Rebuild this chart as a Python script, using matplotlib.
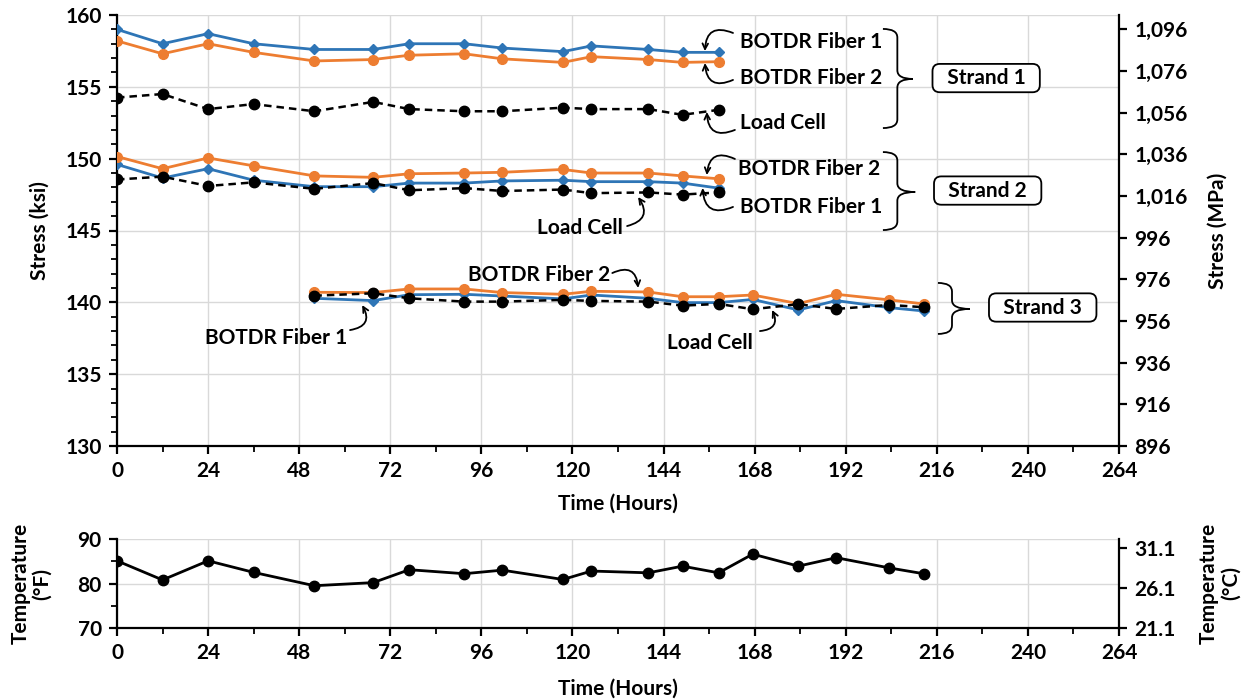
import numpy as np
import matplotlib
matplotlib.use("Agg")
import matplotlib.pyplot as plt
from matplotlib.path import Path
from matplotlib.patches import PathPatch
from matplotlib.ticker import MultipleLocator, FuncFormatter

plt.rcParams['font.family'] = ['Lato', 'DejaVu Sans']
plt.rcParams['font.weight'] = 'bold'
plt.rcParams['axes.labelweight'] = 'bold'

# time stamps (hours)
hours_s12 = [0, 12, 24, 36, 52, 67.5, 77, 91.5, 101.5, 117.5, 125, 140, 149, 158.5]
hours_s3 = [52, 67.5, 77, 91.5, 101.5, 117.5, 125, 140, 149, 158.5, 167.5, 179.5, 189.5, 203.5, 212.5]
hours_temp = [0, 12, 24, 36, 52, 67.5, 77, 91.5, 101.5, 117.5, 125, 140, 149, 158.5,
              167.5, 179.5, 189.5, 203.5, 212.5]

# strand 1 (ksi)
s1_f1 = [159.0, 158.0, 158.7, 158.0, 157.6, 157.6, 158.0, 158.0, 157.7, 157.45, 157.85, 157.6, 157.4, 157.4]
s1_f2 = [158.2, 157.3, 158.0, 157.4, 156.8, 156.9, 157.2, 157.3, 156.95, 156.7, 157.1, 156.9, 156.7, 156.75]
s1_lc = [154.25, 154.5, 153.45, 153.8, 153.3, 153.95, 153.45, 153.3, 153.3, 153.55, 153.45, 153.45, 153.05, 153.4]

# strand 2 (ksi)
s2_f2 = [150.15, 149.3, 150.05, 149.5, 148.8, 148.7, 148.95, 149.0, 149.05, 149.25, 149.0, 149.0, 148.8, 148.6]
s2_f1 = [149.6, 148.65, 149.3, 148.5, 148.05, 148.05, 148.3, 148.3, 148.45, 148.5, 148.4, 148.4, 148.3, 147.95]
s2_lc = [148.55, 148.75, 148.1, 148.35, 147.9, 148.3, 147.8, 147.95, 147.75, 147.85, 147.6, 147.65, 147.5, 147.65]

# strand 3 (ksi)
s3_f2 = [140.7, 140.68, 140.93, 140.93, 140.68, 140.56, 140.77, 140.72, 140.39, 140.39, 140.51, 139.91, 140.56, 140.17, 139.89]
s3_f1 = [140.28, 140.12, 140.53, 140.56, 140.44, 140.24, 140.51, 140.28, 139.98, 139.98, 140.2, 139.47, 140.12, 139.63, 139.4]
s3_lc = [140.46, 140.63, 140.28, 140.05, 140.05, 140.17, 140.1, 140.05, 139.77, 139.89, 139.52, 139.87, 139.54, 139.82, 139.66]

# temperature (F)
temp_f = [85.1, 80.8, 85.1, 82.5, 79.5, 80.2, 83.1, 82.2, 83.0, 80.9, 82.8, 82.4, 83.9, 82.4,
          86.6, 83.9, 85.8, 83.5, 82.2]

KSI_TO_MPA = 6.894757
BLUE = '#2E75B6'
ORANGE = '#ED7D31'
GRID = '#D9D9D9'
FS = 15

fig = plt.figure(figsize=(12.53, 7), dpi=100)
ax = fig.add_axes([117/1253, 1-446/700, 1002/1253, 431/700])
axb = fig.add_axes([117/1253, 1-628/700, 1002/1253, 89/700])


def style_axis(a):
    a.spines['top'].set_visible(False)
    a.spines['right'].set_visible(False)
    for s in ('left', 'bottom'):
        a.spines[s].set_linewidth(1.6)
    a.set_xlim(0, 264)
    a.xaxis.set_major_locator(MultipleLocator(24))
    a.xaxis.set_minor_locator(MultipleLocator(12))
    a.grid(True, which='major', color=GRID, lw=1)
    a.set_axisbelow(True)
    a.tick_params(which='major', direction='out', length=6, width=1.6, labelsize=FS, pad=5)
    a.tick_params(which='minor', direction='out', length=4, width=1.3)


style_axis(ax)
style_axis(axb)

blue_kw = dict(color=BLUE, lw=2, marker='D', ms=5, zorder=3)
orange_kw = dict(color=ORANGE, lw=2, marker='o', ms=7, zorder=4)
black_kw = dict(color='black', lw=1.8, ls=(0, (3, 2)), marker='o', ms=7.5, zorder=5)

for f1, f2, lc, hrs in ((s1_f1, s1_f2, s1_lc, hours_s12),
                        (s2_f1, s2_f2, s2_lc, hours_s12),
                        (s3_f1, s3_f2, s3_lc, hours_s3)):
    ax.plot(hrs, f1, **blue_kw)
    ax.plot(hrs, f2, **orange_kw)
    ax.plot(hrs, lc, **black_kw)

ax.set_ylim(130, 160)
ax.yaxis.set_major_locator(MultipleLocator(5))
ax.yaxis.set_minor_locator(MultipleLocator(1))
ax.set_xlabel('Time (Hours)', fontsize=FS)
ax.xaxis.set_label_coords(0.5, -0.11)
ax.set_ylabel('Stress (ksi)', fontsize=FS)
ax.yaxis.set_label_coords(-0.067, 0.5)

axr = ax.twinx()
axr.set_ylim(896, 896 + 30 * KSI_TO_MPA)
axr.set_yticks(np.arange(896, 1100, 20))
axr.yaxis.set_major_formatter(FuncFormatter(lambda v, p: f'{v:,.0f}'))
for s in ('top', 'left', 'bottom'):
    axr.spines[s].set_visible(False)
axr.spines['right'].set_linewidth(1.6)
axr.tick_params(direction='out', length=6, width=1.6, labelsize=FS, pad=5)
axr.set_ylabel('Stress (MPa)', fontsize=FS)
axr.yaxis.set_label_coords(1.088, 0.5)

# annotations: (text, text x, text y, arrow tail, arrow head, rad)
notes = [
    ('BOTDR Fiber 1', 164.1, 158.12, (162.3, 158.75), (154.9, 157.49), 0.7),
    ('BOTDR Fiber 2', 164.1, 155.61, (162.3, 155.48), (154.9, 156.66), -0.7),
    ('Load Cell', 164.1, 152.48, (162.8, 152.0), (155.4, 153.25), -0.7),
    ('BOTDR Fiber 2', 163.6, 149.28, (162.8, 149.98), (155.4, 148.86), 0.7),
    ('BOTDR Fiber 1', 164.1, 146.64, (162.3, 146.64), (154.3, 147.96), -0.7),
    ('Load Cell', 110.7, 145.17, (134.4, 145.31), (137.3, 147.33), 0.7),
    ('BOTDR Fiber 2', 92.5, 141.9, (130.5, 142.04), (137.3, 141.0), -0.7),
    ('BOTDR Fiber 1', 23.2, 137.52, (61.4, 138.07), (64.6, 139.81), 0.7),
    ('Load Cell', 144.9, 137.17, (169.4, 138.0), (172.6, 139.47), 0.7),
]
for txt, tx, ty, tail, head, rad in notes:
    ax.text(tx, ty, txt, fontsize=FS, ha='left', va='center', zorder=6)
    ax.annotate('', xy=head, xytext=tail,
                arrowprops=dict(arrowstyle='->', color='black', lw=1.3,
                                shrinkA=0, shrinkB=0,
                                connectionstyle=f'arc3,rad={rad}'), zorder=6)


def brace(a, xl, xm, xt, ytop, ymid, ybot, r):
    verts = [(xl, ytop), (xm, ytop), (xm, ytop - r), (xm, ymid + r),
             (xm, ymid), (xt, ymid), (xm, ymid), (xm, ymid - r),
             (xm, ybot + r), (xm, ybot), (xl, ybot)]
    codes = [Path.MOVETO, Path.CURVE3, Path.CURVE3, Path.LINETO,
             Path.CURVE3, Path.CURVE3, Path.CURVE3, Path.CURVE3,
             Path.LINETO, Path.CURVE3, Path.CURVE3]
    a.add_patch(PathPatch(Path(verts, codes), fc='none', ec='black', lw=1.3, zorder=6))


brace(ax, 201.8, 205.6, 209.7, 159.03, 155.55, 152.13, 0.6)
brace(ax, 201.8, 205.6, 210.3, 150.46, 147.68, 145.03, 0.6)
brace(ax, 216.3, 220.0, 224.7, 141.35, 139.54, 137.8, 0.6)

box = dict(boxstyle='round,pad=0.2,rounding_size=0.35', fc='white', ec='black', lw=1.3)
for txt, bx, by in (('Strand 1', 229.0, 155.61), ('Strand 2', 229.4, 147.78),
                    ('Strand 3', 243.9, 139.64)):
    ax.text(bx, by, '  ' + txt + '  ', fontsize=FS, ha='center', va='center', bbox=box, zorder=7)

# temperature panel
axb.plot(hours_temp, temp_f, color='black', lw=2, marker='o', ms=7.5, zorder=3)
axb.set_ylim(70, 90)
axb.yaxis.set_major_locator(MultipleLocator(10))
axb.yaxis.set_minor_locator(MultipleLocator(5))
axb.set_xlabel('Time (Hours)', fontsize=FS)
axb.xaxis.set_label_coords(0.5, -0.57)
axb.set_ylabel('Temperature\n(°F)', fontsize=FS, linespacing=1.1)
axb.yaxis.set_label_coords(-0.065, 0.5)

axbr = axb.twinx()
axbr.set_ylim((70 - 32) * 5 / 9, (90 - 32) * 5 / 9)
axbr.set_yticks([21.1, 26.1, 31.1])
axbr.yaxis.set_major_formatter(FuncFormatter(lambda v, p: f'{v:.1f}'))
for s in ('top', 'left', 'bottom'):
    axbr.spines[s].set_visible(False)
axbr.spines['right'].set_linewidth(1.6)
axbr.tick_params(direction='out', length=6, width=1.6, labelsize=FS, pad=5)
axbr.set_ylabel('Temperature\n(°C)', fontsize=FS, linespacing=1.1)
axbr.yaxis.set_label_coords(1.08, 0.5)

fig.savefig('out.png', dpi=100)
